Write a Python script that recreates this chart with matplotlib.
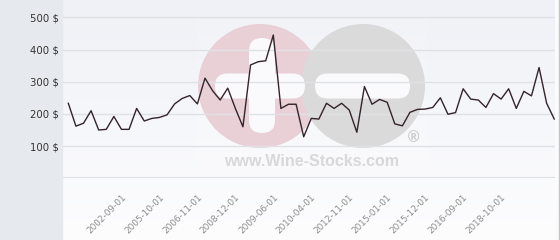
import numpy as np
import matplotlib.pyplot as plt
from matplotlib.colors import LinearSegmentedColormap
from matplotlib.patches import Circle, FancyBboxPatch, Rectangle

# price per bottle, one point per listing (category axis)
prices = [233, 162, 171, 210, 150, 152, 192, 152, 152, 217,
          178, 186, 189, 197, 231, 248, 257, 231, 311, 272,
          243, 280, 217, 160, 352, 362, 365, 445,
          217, 230, 230, 129, 186, 184, 233, 217, 233, 212,
          143, 285, 230, 245, 236, 169, 163, 205, 214, 215,
          220, 250, 199, 204, 278, 246, 243, 220, 263, 246,
          278, 217, 270, 256, 344, 233, 184]
date_labels = ['2002-09-01', '2005-10-01', '2006-11-01', '2008-12-01',
               '2009-06-01', '2010-04-01', '2012-11-01', '2015-01-01',
               '2015-12-01', '2016-09-01', '2018-10-01']
y_ticks = [100, 200, 300, 400, 500]

W, H = 560, 240
fig = plt.figure(figsize=(W / 100, H / 100), dpi=100)
fig.patch.set_facecolor('#fbfbfd')

# background layer in pixel coords
bg = fig.add_axes([0, 0, 1, 1], zorder=0)
bg.set_xlim(0, W)
bg.set_ylim(H, 0)
bg.axis('off')
grad = np.linspace(0, 1, 100).reshape(-1, 1)
bg_cmap = LinearSegmentedColormap.from_list('bgc', ['#eff1f6', '#fdfdfe'])
bg.imshow(grad, extent=[63, 555, H, 0], cmap=bg_cmap, aspect='auto', zorder=0)
bg.add_patch(Rectangle((0, 0), 62, H, color='#e6eaee', zorder=1))
bg.plot([558.5, 558.5], [0, H], color='#c4c4c4', lw=1, zorder=1)

# watermark
bg.add_patch(Rectangle((197, 20), 230, 158, color='white', alpha=0.15, lw=0, zorder=1))
bg.add_patch(Circle((260, 86), 62, color='#e9d0d7', lw=0, zorder=2))
bg.add_patch(Circle((363, 86), 62, color='#dadadb', lw=0, zorder=3))
bg.add_patch(FancyBboxPatch((249, 38), 26, 95, boxstyle='round,pad=0,rounding_size=13',
                            color='#fafafc', lw=0, zorder=4))
bg.add_patch(FancyBboxPatch((215, 73.5), 90, 25, boxstyle='round,pad=0,rounding_size=12.5',
                            color='#fafafc', lw=0, zorder=4))
bg.add_patch(FancyBboxPatch((315, 73.5), 95, 25, boxstyle='round,pad=0,rounding_size=12.5',
                            color='#fafafc', lw=0, zorder=4))
bg.text(312, 162, 'www.Wine-Stocks.com', family='Liberation Sans', weight='bold',
        fontsize=11.5, color='#d8d8d8', ha='center', va='center', zorder=4)
bg.text(413, 138, '®', family='DejaVu Sans', fontsize=11, weight='bold',
        color='#cdcdcd', ha='center', va='center', zorder=4)

# main chart
ax = fig.add_axes([63 / W, (H - 178.3) / H, 492 / W, 177.1 / H], zorder=1)
ax.patch.set_alpha(0)
x = np.arange(len(prices))
ax.plot(x, prices, color='#33232a', lw=1, zorder=3)
ax.set_xlim(-0.7, 64.1)
ax.set_ylim(0, 550)

ax.set_yticks(y_ticks)
ax.set_yticklabels([f'{v} $' for v in y_ticks], fontsize=7.3, color='#333333')
ax.yaxis.grid(True, color='#e0e1e5', lw=1)
ax.axhline(0, color='#dfe0e4', lw=1.5, zorder=1)
ax.tick_params(axis='y', length=0, pad=3)

tick_pos = list(range(7, 7 + 5 * len(date_labels), 5))
ax.set_xticks(tick_pos)
ax.set_xticklabels(date_labels, rotation=45, ha='right', va='top',
                   rotation_mode='anchor', fontsize=6.4, color='#8c8c8c')
ax.tick_params(axis='x', length=0, pad=10)
for s in ax.spines.values():
    s.set_visible(False)

fig.savefig('out.png', dpi=100, facecolor=fig.get_facecolor())
